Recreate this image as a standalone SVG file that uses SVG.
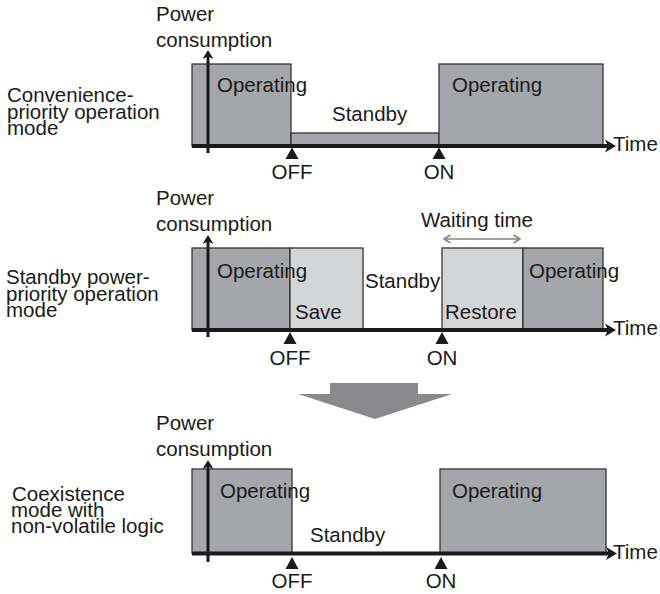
<svg xmlns="http://www.w3.org/2000/svg" width="660" height="594" viewBox="0 0 660 594">
<style>
text{font-family:"Liberation Sans",Arial,sans-serif;font-size:20.5px;fill:#1a1a1a}
.op{fill:#a5a6a9;stroke:#333;stroke-width:1.3}
.lt{fill:#d4d5d7;stroke:#333;stroke-width:1.3}
.tax{stroke:#1a1a1a;stroke-width:4;fill:none;marker-end:url(#ah)}
.yax{stroke:#1a1a1a;stroke-width:3;fill:none;marker-end:url(#yh)}
.tri{fill:#1a1a1a}
.mid{text-anchor:middle}
</style>
<defs>
<marker id="ah" markerUnits="userSpaceOnUse" markerWidth="16" markerHeight="16" viewBox="-13 -8 16 16" refX="-4" refY="0" orient="auto"><path d="M0,0 L-11,-6.5 L-8,0 L-11,6.5 Z" fill="#1a1a1a"/></marker>
<marker id="yh" markerUnits="userSpaceOnUse" markerWidth="14" markerHeight="14" viewBox="-11 -7 14 14" refX="-3" refY="0" orient="auto"><path d="M0,0 L-9,-5.5 L-6.5,0 L-9,5.5 Z" fill="#1a1a1a"/></marker>
<marker id="wh" markerUnits="userSpaceOnUse" markerWidth="10" markerHeight="10" viewBox="-8 -5 10 10" refX="0" refY="0" orient="auto-start-reverse"><path d="M-6.5,-4 L0,0 L-6.5,4" fill="none" stroke="#858585" stroke-width="1.6"/></marker>
</defs>

<!-- Panel 1 -->
<g id="mode1-label"><text x="7" y="102">Convenience-</text><text x="7" y="118.5">priority operation</text><text x="7" y="135">mode</text></g>
<g id="p1-ylabel"><text x="156" y="21">Power</text><text x="156" y="47">consumption</text></g>
<g id="p1-op1"><rect class="op" x="192" y="64" width="99" height="82"/><text x="217" y="92">Operating</text></g>
<g id="p1-standby"><rect class="op" x="291" y="133" width="148" height="13"/><text x="332" y="121">Standby</text></g>
<g id="p1-op2"><rect class="op" x="439" y="64" width="164" height="82"/><text x="452" y="92">Operating</text></g>
<g id="p1-axes"><line class="tax" x1="192" y1="146" x2="612" y2="146"/><line class="yax" x1="208" y1="153" x2="208" y2="53"/><text x="613" y="151">Time</text></g>
<g id="p1-off"><path class="tri" d="M292,147.5 L298.5,159 L285.5,159 Z"/><text class="mid" x="292" y="179">OFF</text></g>
<g id="p1-on"><path class="tri" d="M439,147.5 L445.5,159 L432.5,159 Z"/><text class="mid" x="439" y="179">ON</text></g>

<!-- Panel 2 -->
<g id="mode2-label"><text x="6" y="284">Standby power-</text><text x="6" y="300.5">priority operation</text><text x="6" y="317">mode</text></g>
<g id="p2-ylabel"><text x="156" y="205">Power</text><text x="156" y="231">consumption</text></g>
<g id="p2-op1"><rect class="op" x="192" y="248" width="98" height="82"/></g>
<g id="p2-save"><rect class="lt" x="290" y="248" width="73" height="82"/><text x="295" y="319">Save</text></g>
<g id="p2-restore"><rect class="lt" x="442" y="248" width="81" height="82"/><text x="445" y="319">Restore</text></g>
<g id="p2-op2"><rect class="op" x="523" y="248" width="80" height="82"/><text x="529" y="278">Operating</text></g>
<g id="p2-op1-label"><text x="217" y="278">Operating</text></g>
<g id="p2-standby"><text x="365" y="288">Standby</text></g>
<g id="p2-wait"><text x="421" y="227">Waiting time</text><line x1="444" y1="239" x2="520" y2="239" stroke="#858585" stroke-width="1.6" marker-start="url(#wh)" marker-end="url(#wh)"/></g>
<g id="p2-axes"><line class="tax" x1="192" y1="330" x2="612" y2="330"/><line class="yax" x1="208" y1="337" x2="208" y2="238"/><text x="613" y="335">Time</text></g>
<g id="p2-off"><path class="tri" d="M290,332 L296.5,344 L283.5,344 Z"/><text class="mid" x="290" y="365">OFF</text></g>
<g id="p2-on"><path class="tri" d="M442,332 L448.5,344 L435.5,344 Z"/><text class="mid" x="442" y="365">ON</text></g>

<!-- Transition arrow -->
<g id="down-arrow"><polygon points="330,383 418,383 418,394 452,394 375,419 298,394 330,394" fill="#89898b"/></g>

<!-- Panel 3 -->
<g id="mode3-label"><text x="12" y="501">Coexistence</text><text x="11" y="517">mode with</text><text x="11" y="533">non-volatile logic</text></g>
<g id="p3-ylabel"><text x="156" y="430">Power</text><text x="156" y="456">consumption</text></g>
<g id="p3-op1"><rect class="op" x="192" y="469" width="100" height="84"/><text x="220" y="498">Operating</text></g>
<g id="p3-standby"><text x="310" y="542">Standby</text></g>
<g id="p3-op2"><rect class="op" x="440" y="469" width="166" height="84"/><text x="452" y="498">Operating</text></g>
<g id="p3-axes"><line class="tax" x1="192" y1="553.5" x2="613" y2="553.5"/><line class="yax" x1="208" y1="562" x2="208" y2="463"/><text x="613" y="558.5">Time</text></g>
<g id="p3-off"><path class="tri" d="M292,557 L298.5,569 L285.5,569 Z"/><text class="mid" x="292" y="588">OFF</text></g>
<g id="p3-on"><path class="tri" d="M441,557 L447.5,569 L434.5,569 Z"/><text class="mid" x="441" y="588">ON</text></g>
</svg>
